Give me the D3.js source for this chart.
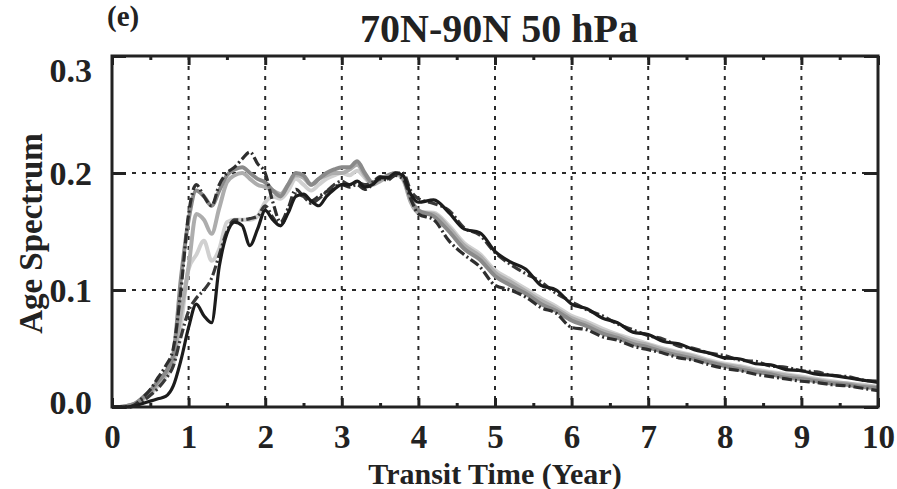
<!DOCTYPE html>
<html>
<head>
<meta charset="utf-8">
<script src="https://cdn.jsdelivr.net/npm/d3@7"></script>
<style>
  body { margin: 0; background: #fff; }
  svg { display: block; font-family: "Liberation Serif", "Times New Roman", serif; font-weight: bold; }
</style>
</head>
<body>
<svg id="chart" width="897" height="489"></svg>
<script>
// transit time grid (years)
const transitTime = [0,0.1,0.2,0.3,0.4,0.5,0.6,0.7,0.8,0.9,1.0,1.1,1.2,1.3,1.4,1.5,1.6,1.7,1.8,1.9,
  2.0,2.1,2.2,2.3,2.4,2.5,2.6,2.7,2.8,2.9,3.0,3.1,3.2,3.3,3.4,3.5,3.6,3.7,3.8,3.9,4.0,
  4.2,4.4,4.6,4.8,5.0,5.2,5.4,5.6,5.8,6.0,6.2,6.4,6.6,6.8,7.0,7.2,7.4,7.6,7.8,8.0,
  8.2,8.4,8.6,8.8,9.0,9.2,9.4,9.6,9.8,10.0];

// dark solid
const blackSolid = [0,0,0,0.001,0.003,0.005,0.007,0.009,0.018,0.04,
  0.068,0.088,0.078,0.072,0.12,0.148,0.158,0.155,0.138,0.152,
  0.168,0.16,0.155,0.166,0.18,0.182,0.176,0.172,0.18,0.186,
  0.19,0.19,0.193,0.188,0.19,0.196,0.196,0.2,0.198,0.182,
  0.175,
  0.177,0.166,0.152,0.149,0.133,0.124,0.118,0.104,0.1,0.088,
  0.084,0.076,0.072,0.064,0.062,0.056,0.054,0.049,0.046,0.042,
  0.041,0.037,0.036,0.032,0.031,0.028,0.027,0.025,0.023,0.021];

// dash-dot, early peak
const dashEarly = [0,0,0,0.002,0.008,0.015,0.025,0.035,0.05,0.1,
  0.165,0.19,0.18,0.172,0.19,0.2,0.205,0.212,0.218,0.208,
  0.2,0.175,0.158,0.17,0.186,0.18,0.176,0.18,0.184,0.188,
  0.19,0.188,0.19,0.186,0.19,0.195,0.194,0.198,0.195,0.178,
  0.165,
  0.16,0.142,0.13,0.12,0.104,0.1,0.094,0.085,0.08,0.068,
  0.066,0.06,0.057,0.052,0.049,0.046,0.042,0.04,0.036,0.033,
  0.031,0.028,0.026,0.024,0.022,0.021,0.019,0.018,0.016,0.014];

// dash-dot, late rise
const dashLate = [0,0,0,0.001,0.005,0.01,0.016,0.024,0.035,0.06,
  0.082,0.093,0.1,0.11,0.13,0.15,0.16,0.16,0.161,0.163,
  0.172,0.162,0.155,0.168,0.182,0.18,0.174,0.178,0.184,0.19,
  0.193,0.19,0.192,0.19,0.192,0.197,0.195,0.2,0.2,0.185,
  0.178,
  0.174,0.168,0.153,0.147,0.132,0.122,0.114,0.107,0.097,0.09,
  0.083,0.078,0.071,0.066,0.061,0.058,0.052,0.05,0.046,0.044,
  0.04,0.039,0.035,0.034,0.031,0.03,0.027,0.026,0.023,0.022];

const grayMid = [0,0,0.001,0.003,0.008,0.014,0.022,0.03,0.045,0.11,
  0.16,0.185,0.18,0.172,0.185,0.198,0.203,0.205,0.2,0.195,
  0.192,0.185,0.18,0.19,0.2,0.198,0.19,0.195,0.2,0.203,
  0.205,0.205,0.21,0.2,0.192,0.195,0.198,0.2,0.196,0.178,
  0.168,
  0.163,0.15,0.135,0.126,0.112,0.104,0.097,0.088,0.082,0.074,
  0.069,0.063,0.059,0.054,0.051,0.047,0.044,0.041,0.038,0.035,
  0.032,0.03,0.028,0.025,0.024,0.022,0.02,0.019,0.017,0.016];

const grayLight = [0,0,0.001,0.003,0.007,0.012,0.02,0.028,0.04,0.08,
  0.12,0.165,0.16,0.148,0.17,0.192,0.198,0.2,0.195,0.19,
  0.188,0.185,0.182,0.19,0.198,0.196,0.19,0.195,0.198,0.2,
  0.2,0.203,0.207,0.198,0.19,0.193,0.197,0.2,0.195,0.175,
  0.166,
  0.165,0.153,0.138,0.129,0.115,0.107,0.099,0.091,0.084,0.076,
  0.071,0.065,0.061,0.056,0.053,0.049,0.046,0.043,0.039,0.036,
  0.034,0.031,0.029,0.027,0.025,0.023,0.021,0.02,0.018,0.017];

const grayPale = [0,0,0.001,0.002,0.006,0.011,0.018,0.026,0.036,0.07,
  0.118,0.13,0.142,0.125,0.135,0.158,0.16,0.16,0.16,0.163,
  0.175,0.18,0.178,0.185,0.195,0.19,0.185,0.19,0.195,0.198,
  0.2,0.198,0.202,0.196,0.19,0.194,0.196,0.199,0.194,0.176,
  0.167,
  0.166,0.155,0.14,0.131,0.117,0.109,0.101,0.093,0.086,0.078,
  0.073,0.067,0.062,0.058,0.054,0.05,0.047,0.044,0.04,0.037,
  0.035,0.032,0.03,0.028,0.026,0.024,0.022,0.02,0.019,0.017];

const xTicks = [0,1,2,3,4,5,6,7,8,9,10];
const xMinorTicks = [0.5,1.5,2.5,3.5,4.5,5.5,6.5,7.5,8.5,9.5];
const yTicks = [0, 0.1, 0.2, 0.3];

const series = [
  { values: grayPale, color: "#d0d0d0", width: 4, dash: null },
  { values: grayLight, color: "#adadad", width: 4, dash: null },
  { values: grayMid, color: "#8a8a8a", width: 4, dash: null },
  { values: dashEarly, color: "#2e2e2e", width: 3.2, dash: "10,3,2,3" },
  { values: dashLate, color: "#383838", width: 3.2, dash: "10,3,2,3" },
  { values: blackSolid, color: "#1c1c1c", width: 3.2, dash: null },
];

const M = { left: 112, right: 878, top: 56, bottom: 407 };
const svg = d3.select("#chart");

const x = d3.scaleLinear().domain([0, 10]).range([M.left, M.right]);
const y = d3.scaleLinear().domain([0, 0.3]).range([M.bottom, M.top]);

// grid
const grid = svg.append("g").attr("class", "grid")
  .attr("stroke", "#2a2a2a").attr("stroke-width", 2).attr("stroke-dasharray", "4,6");
grid.selectAll("line.v").data(xTicks.slice(1, -1)).enter().append("line")
  .attr("x1", d => x(d)).attr("x2", d => x(d))
  .attr("y1", M.top).attr("y2", M.bottom);
grid.selectAll("line.h").data([0.1, 0.2]).enter().append("line")
  .attr("x1", M.left).attr("x2", M.right)
  .attr("y1", d => y(d)).attr("y2", d => y(d));

// lines
const line = d3.line()
  .x((d, i) => x(transitTime[i]))
  .y(d => y(d))
  .curve(d3.curveMonotoneX);

const lines = svg.append("g").attr("class", "lines");
series.forEach(s => {
  lines.append("path")
    .attr("d", line(s.values))
    .attr("fill", "none")
    .attr("stroke", s.color)
    .attr("stroke-width", s.width)
    .attr("stroke-linejoin", "round")
    .attr("stroke-dasharray", s.dash);
});

// axes
const axisColor = "#222";
const xb = svg.append("g").attr("transform", "translate(0," + M.bottom + ")")
  .call(d3.axisBottom(x).tickValues(xTicks).tickSize(-9).tickPadding(19).tickFormat(d3.format("d")));
const xbm = svg.append("g").attr("transform", "translate(0," + M.bottom + ")")
  .call(d3.axisBottom(x).tickValues(xMinorTicks).tickSize(-4).tickFormat(""));
const xt = svg.append("g").attr("transform", "translate(0," + M.top + ")")
  .call(d3.axisTop(x).tickValues(xTicks).tickSize(-9).tickFormat(""));
const xtm = svg.append("g").attr("transform", "translate(0," + M.top + ")")
  .call(d3.axisTop(x).tickValues(xMinorTicks).tickSize(-4).tickFormat(""));
const yl = svg.append("g").attr("transform", "translate(" + M.left + ",0)")
  .call(d3.axisLeft(y).tickValues(yTicks).tickSize(-14).tickPadding(20).tickFormat(d3.format(".1f")));
const yr = svg.append("g").attr("transform", "translate(" + M.right + ",0)")
  .call(d3.axisRight(y).tickValues(yTicks).tickSize(-14).tickFormat(""));

[xb, xbm, xt, xtm, yl, yr].forEach(g => {
  g.select(".domain").remove();
  g.selectAll(".tick line").attr("stroke", axisColor).attr("stroke-width", 3);
  g.selectAll("text").attr("fill", "#222").style("font-size", "33px")
    .style("font-family", "'Liberation Serif', serif").style("font-weight", "bold");
});
xb.selectAll("text").attr("dy", "0.66em");
yl.selectAll("text").style("font-size", "34px");
// top label sits a little below its tick, bottom one a little above
yl.selectAll("text").attr("dy", d => d === 0.3 ? "0.75em" : d === 0 ? "0.2em" : "0.35em");

svg.append("rect")
  .attr("x", M.left).attr("y", M.top)
  .attr("width", M.right - M.left).attr("height", M.bottom - M.top)
  .attr("fill", "none").attr("stroke", axisColor).attr("stroke-width", 3);

// titles
svg.append("text")
  .attr("x", 499).attr("y", 42)
  .attr("text-anchor", "middle")
  .style("font-size", "40px").attr("fill", "#222")
  .text("70N-90N 50 hPa");

svg.append("text")
  .attr("x", 107).attr("y", 26)
  .style("font-size", "29px").attr("fill", "#222")
  .text("(e)");

svg.append("text")
  .attr("x", (M.left + M.right) / 2).attr("y", 484)
  .attr("text-anchor", "middle")
  .style("font-size", "30px").attr("fill", "#222")
  .text("Transit Time (Year)");

svg.append("text")
  .attr("transform", "translate(42," + ((M.top + M.bottom) / 2 + 2) + ") rotate(-90)")
  .attr("text-anchor", "middle")
  .style("font-size", "33px").attr("fill", "#222")
  .text("Age Spectrum");
</script>
</body>
</html>
